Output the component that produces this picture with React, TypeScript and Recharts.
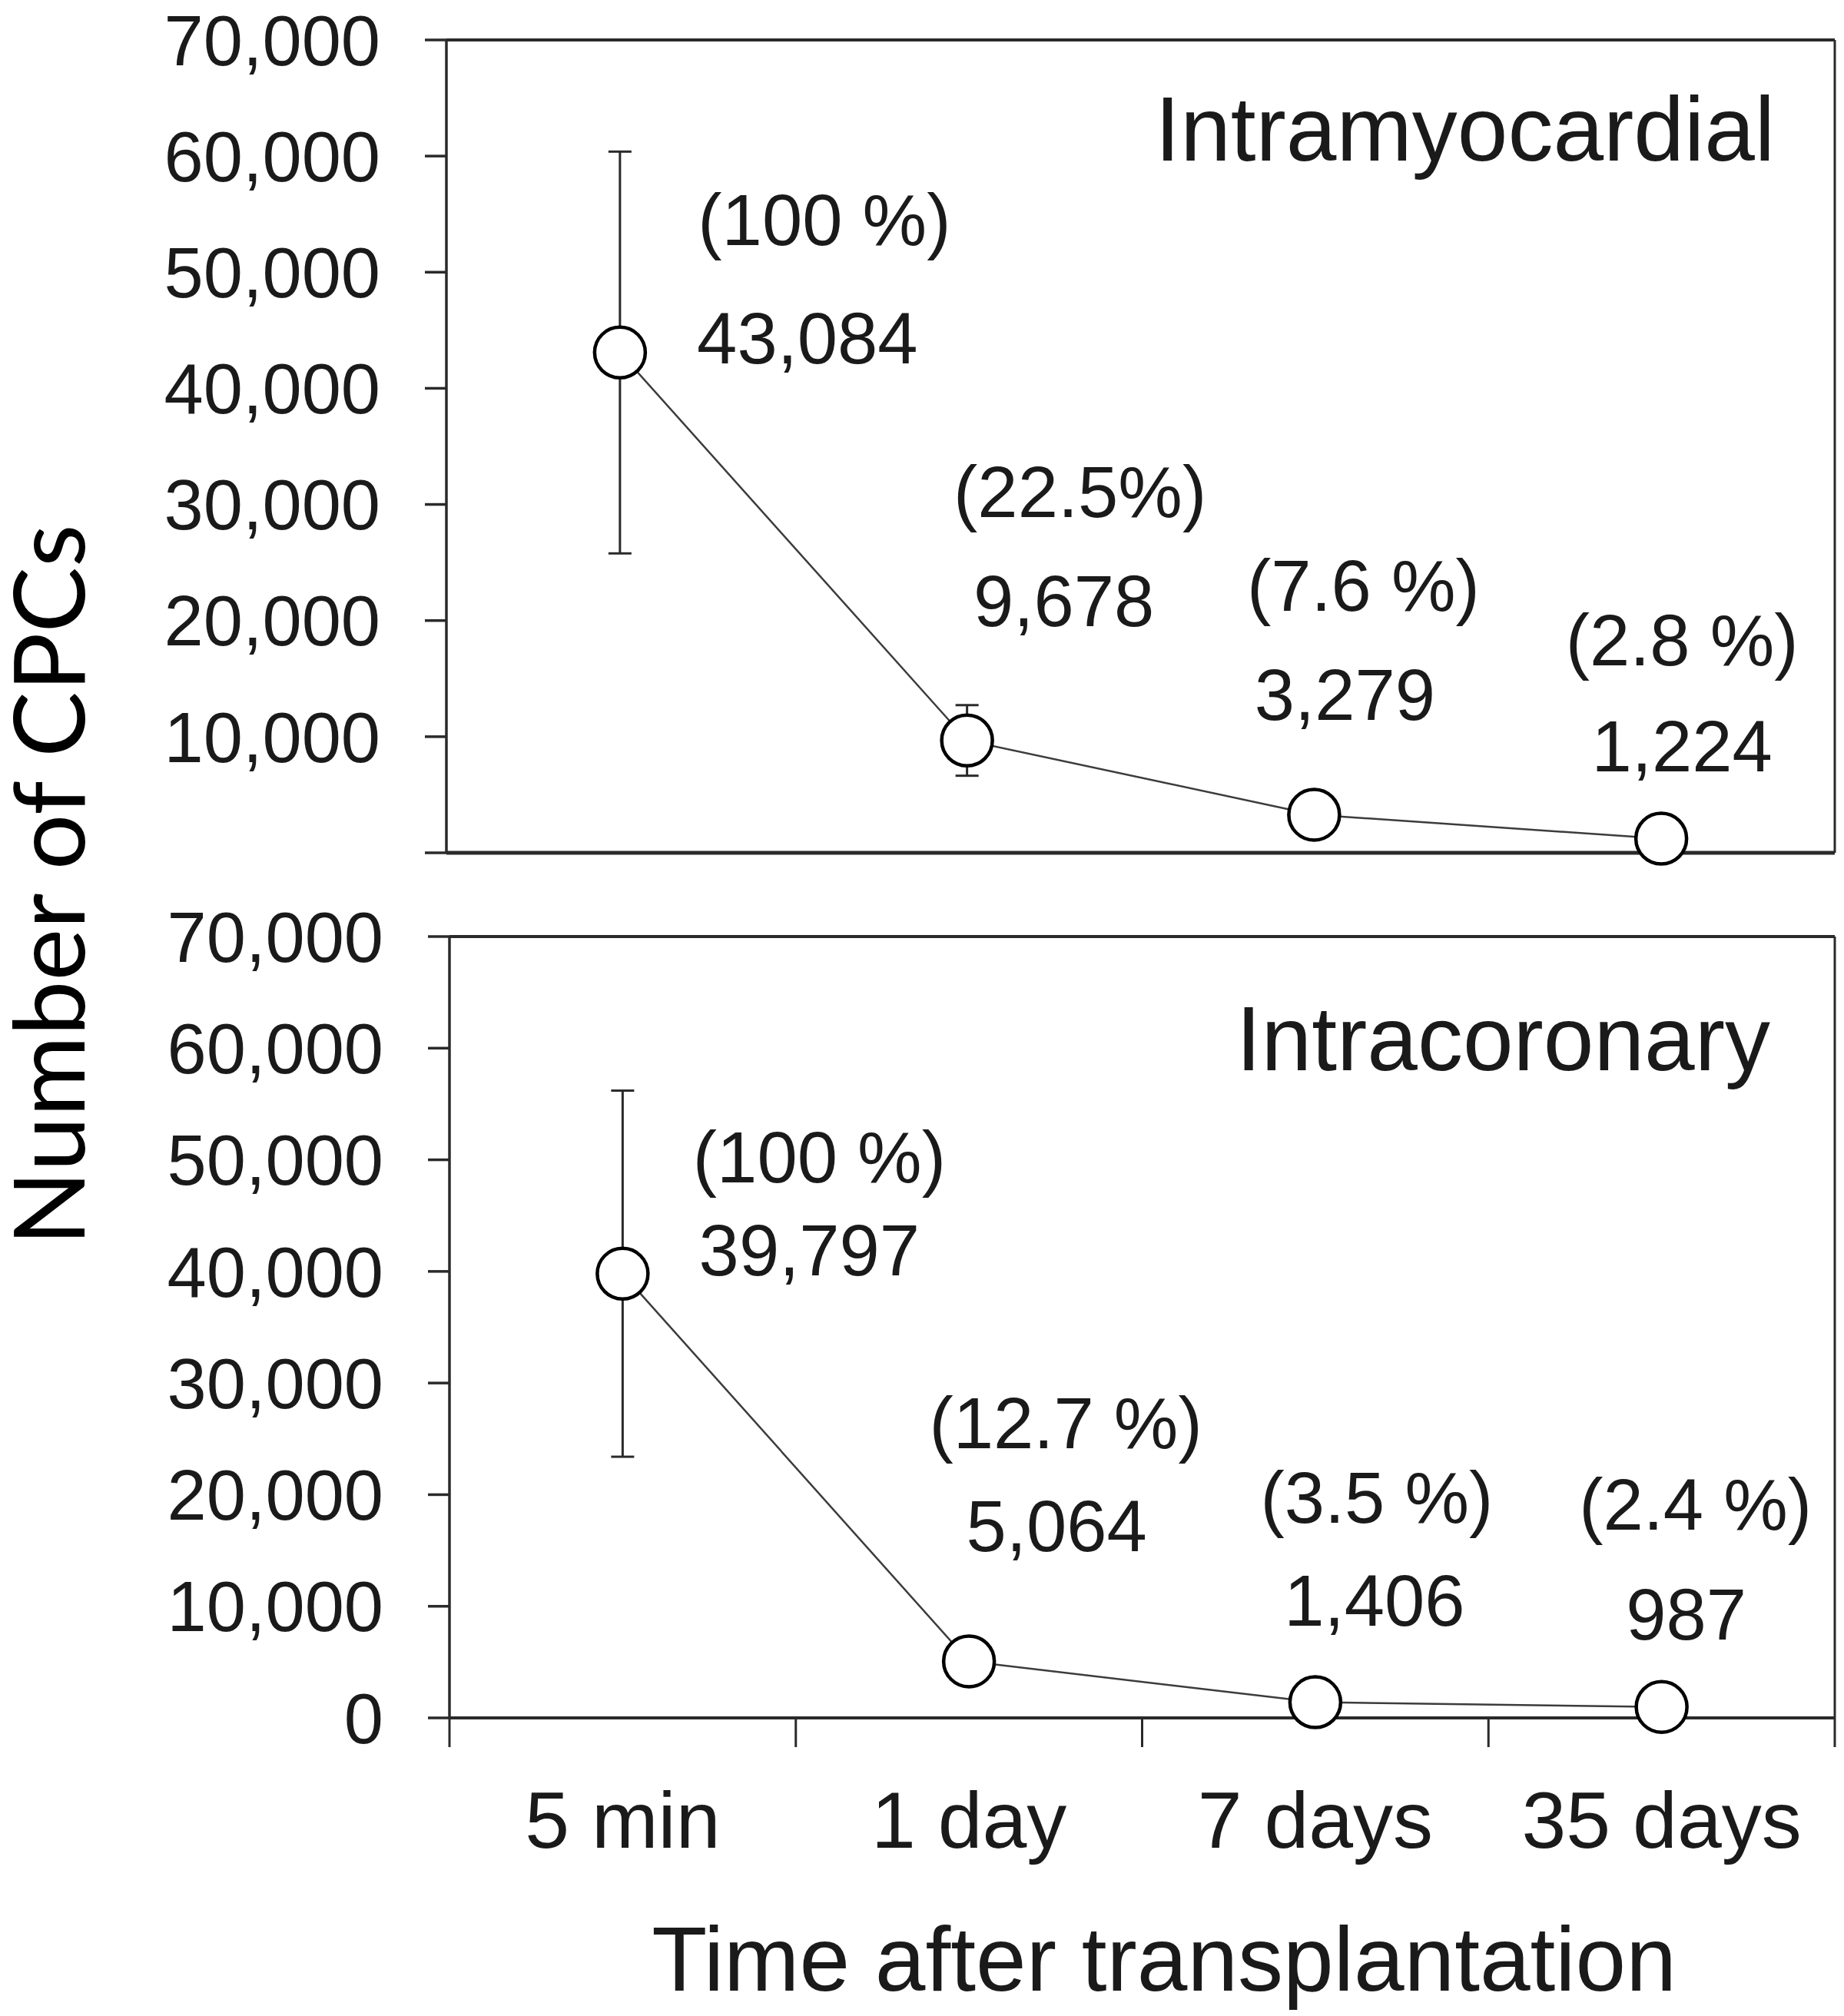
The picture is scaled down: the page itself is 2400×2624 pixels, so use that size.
import React from 'react';
import { LineChart, Line, XAxis, YAxis, ErrorBar, LabelList, ReferenceLine } from 'recharts';

// time points after transplantation
const categories = ['5 min', '1 day', '7 days', '35 days'];
const yTicks = [0, 10000, 20000, 30000, 40000, 50000, 60000, 70000];
const xTicks = [0, 0.5, 1, 1.5, 2, 2.5, 3, 3.5, 4];

// intramyocardial
const imValues = [43084, 9678, 3279, 1224];
const imErrors = [17300, 3040, 1200, 600];
const imPercents = ['(100 %)', '(22.5%)', '(7.6 %)', '(2.8 %)'];

// intracoronary
const icValues = [39797, 5064, 1406, 987];
const icErrors = [16400, 1800, 900, 500];
const icPercents = ['(100 %)', '(12.7 %)', '(3.5 %)', '(2.4 %)'];

// label offsets from each point, px: [numDx, numDy, pctDx, pctDy]
const imNoteOffsets = [
  [244, -18, 266, -172],
  [126, -181, 147, -323],
  [40, -156, 64, -298],
  [27, -120, 27, -258],
];
const icNoteOffsets = [
  [243, -30, 256, -151],
  [114, -176, 126, -310],
  [77, -132, 80, -266],
  [32, -120, 44, -263],
];

const FONT = '"Liberation Sans", Arial, sans-serif';
const INK = '#1a1a1a';
const AXIS = '#2a2a2a';

const buildRows = (values: number[], errors: number[]) =>
  categories.map((c, i) => ({ x: i + 0.5, name: c, v: values[i], err: errors[i] }));

const imRows = buildRows(imValues, imErrors);
const icRows = buildRows(icValues, icErrors);

const fmt = (v: number) => v.toLocaleString('en-US');

const makeNotes = (percents: string[], offsets: number[][]) => (props: any) => {
  const { x, y, index, value } = props;
  const [nx, ny, px, py] = offsets[index];
  return (
    <g>
      <text x={x + px} y={y + py} textAnchor="middle" dominantBaseline="central" fontFamily={FONT} fontSize={94} fill={INK}>
        {percents[index]}
      </text>
      <text x={x + nx} y={y + ny} textAnchor="middle" dominantBaseline="central" fontFamily={FONT} fontSize={94} fill={INK}>
        {fmt(value)}
      </text>
    </g>
  );
};

const BottomTick = (props: any) => {
  const { x, y, payload } = props;
  const v = payload.value as number;
  if (Number.isInteger(v)) {
    return <line x1={x} y1={y} x2={x} y2={y + 38} stroke={AXIS} strokeWidth={3} />;
  }
  return (
    <text x={x} y={y + 169} textAnchor="middle" fontFamily={FONT} fontSize={104} fill={INK}>
      {categories[Math.floor(v)]}
    </text>
  );
};

const dotStyle = { r: 33, fill: '#fff', stroke: '#000', strokeWidth: 4.5 };

interface PanelProps {
  rows: Array<Record<string, string | number>>
  percents: string[]
  offsets: number[][]
  showZero: boolean
  bottomAxis: boolean
  width: number
  height: number
  margin: { top: number; right: number; left: number; bottom: number }
  yWidth: number
}

const Panel: React.FC<PanelProps> = ({ rows, percents, offsets, showZero, bottomAxis, width, height, margin, yWidth }) => (
  <LineChart width={width} height={height} data={rows} margin={margin}>
    {bottomAxis ? (
      <XAxis
        dataKey="x"
        type="number"
        domain={[0, 4]}
        ticks={xTicks}
        interval={0}
        tickLine={false}
        tickSize={0}
        tickMargin={0}
        height={388}
        tick={<BottomTick />}
        axisLine={{ stroke: AXIS, strokeWidth: 4 }}
      />
    ) : (
      <XAxis
        dataKey="x"
        type="number"
        domain={[0, 4]}
        tick={false}
        tickLine={false}
        height={4}
        axisLine={{ stroke: AXIS, strokeWidth: 5 }}
      />
    )}
    <YAxis
      type="number"
      domain={[0, 70000]}
      ticks={yTicks}
      interval={0}
      width={yWidth}
      tickSize={28}
      tickMargin={58}
      tickFormatter={(v: number) => (v === 0 && !showZero ? '' : fmt(v))}
      tick={{ fontFamily: FONT, fontSize: 92, fill: INK }}
      tickLine={{ stroke: AXIS, strokeWidth: 3.5 }}
      axisLine={{ stroke: AXIS, strokeWidth: 3.5 }}
    />
    <ReferenceLine y={70000} stroke={AXIS} strokeWidth={4} ifOverflow="visible" />
    <ReferenceLine x={4} stroke={AXIS} strokeWidth={3} ifOverflow="visible" />
    <Line
      type="linear"
      dataKey="v"
      stroke="#3c3c3c"
      strokeWidth={2.5}
      dot={dotStyle}
      activeDot={false}
      isAnimationActive={false}
    >
      <ErrorBar dataKey="err" width={15} stroke={AXIS} strokeWidth={3} />
      <LabelList dataKey="v" content={makeNotes(percents, offsets)} />
    </Line>
  </LineChart>
);

const App: React.FC = () => (
  <div style={{ position: 'absolute', left: 0, top: 0, width: 2400, height: 2624, background: '#fff', overflow: 'hidden' }}>
    <div style={{ position: 'absolute', left: 0, top: 0 }}>
      <Panel
        rows={imRows}
        percents={imPercents}
        offsets={imNoteOffsets}
        showZero={false}
        bottomAxis={false}
        width={2400}
        height={1140}
        margin={{ top: 52, right: 12, left: 0, bottom: 26 }}
        yWidth={581}
      />
    </div>
    <div style={{ position: 'absolute', left: 0, top: 1160 }}>
      <Panel
        rows={icRows}
        percents={icPercents}
        offsets={icNoteOffsets}
        showZero={true}
        bottomAxis={true}
        width={2400}
        height={1464}
        margin={{ top: 59, right: 12, left: 0, bottom: 0 }}
        yWidth={585}
      />
    </div>
    <svg width={2400} height={2624} style={{ position: 'absolute', left: 0, top: 0, pointerEvents: 'none' }}>
      <text x={2310} y={209} textAnchor="end" fontFamily={FONT} fontSize={118} fill={INK}>Intramyocardial</text>
      <text x={2304} y={1393} textAnchor="end" fontFamily={FONT} fontSize={118} fill={INK}>Intracoronary</text>
      <text x={1515} y={2591} textAnchor="middle" fontFamily={FONT} fontSize={118} fill={INK}>Time after transplantation</text>
      <text transform="translate(110,1152) rotate(-90)" textAnchor="middle" fontFamily="Lato, 'Open Sans', sans-serif" fontSize={128} fill="#000">
        Number of CPCs
      </text>
    </svg>
  </div>
);

export default App;
